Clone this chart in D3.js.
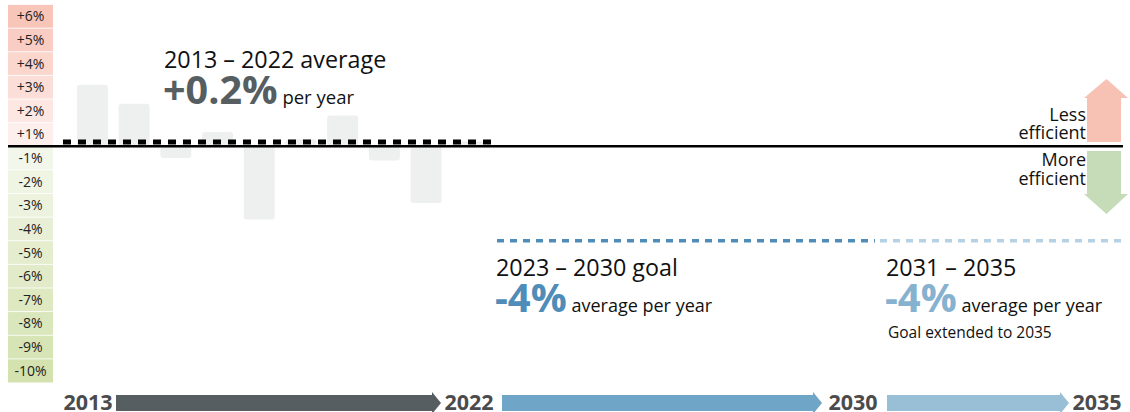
<!DOCTYPE html>
<html><head><meta charset="utf-8">
<script src="https://cdn.jsdelivr.net/npm/d3@7"></script>
<style>
html,body{margin:0;padding:0;background:#fff;}
svg{display:block;font-family:"Open Sans","Noto Sans",sans-serif;}
</style></head>
<body><svg id="c" width="1130" height="412"></svg>
<script>
// ---- data ----
const years = [2013,2014,2015,2016,2017,2018,2019,2020,2021,2022];
const changes = [2.6, 1.8, -0.5, 0.6, -3.1, 0.3, 1.3, -0.6, -2.4, 0.2];
const tickValues = [6,5,4,3,2,1,-1,-2,-3,-4,-5,-6,-7,-8,-9,-10];
const tickLabels = ["+6%","+5%","+4%","+3%","+2%","+1%","-1%","-2%","-3%","-4%","-5%","-6%","-7%","-8%","-9%","-10%"];
const avgPast = 0.2;
const goal2030 = -4;
const goal2035 = -4;
const timelineYears = ["2013","2022","2030","2035"];

const svg = d3.select("#c");
const y = d3.scaleLinear().domain([-10, 6]).range([382.5, 4.5]);
const x = d3.scaleBand().domain(years).range([71.6, 488.6]).paddingInner(0.257).paddingOuter(0.128);

// axis color bands
const posCol = d3.interpolateRgb("#fdefec", "#f8c5b9");
const negCol = d3.interpolateRgb("#f3f6ea", "#d3e2ae");
const band = svg.append("g");
tickValues.forEach((v, i) => {
  const top = v > 0 ? y(v) : y(v + 1);
  const bot = v > 0 ? y(v - 1) : y(v);
  const c = v > 0 ? posCol((v - 1) / 5) : negCol((-v - 1) / 9);
  band.append("rect").attr("x", 8).attr("width", 45).attr("y", top).attr("height", bot - top).attr("fill", c);
  band.append("line").attr("x1", 8).attr("x2", 53).attr("y1", top).attr("y2", top).attr("stroke", "#fff").attr("stroke-width", 0.8);
  band.append("text").attr("x", 30.5).attr("y", (top + bot) / 2 + 5).attr("text-anchor", "middle")
    .attr("font-size", 14).attr("fill", "#222").text(tickLabels[i]);
});

// bars
svg.append("g").selectAll("rect").data(years).join("rect")
  .attr("x", d => x(d)).attr("width", x.bandwidth())
  .attr("y", (d, i) => Math.min(y(changes[i]), y(0)))
  .attr("height", (d, i) => Math.abs(y(changes[i]) - y(0)))
  .attr("rx", 3).attr("fill", "#eeefef");

// zero line
svg.append("line").attr("x1", 8).attr("x2", 1123).attr("y1", y(0)).attr("y2", y(0))
  .attr("stroke", "#000").attr("stroke-width", 2.5);

// average dashed line
svg.append("line").attr("x1", 63).attr("x2", 492).attr("y1", y(avgPast) + 0.5).attr("y2", y(avgPast) + 0.5)
  .attr("stroke", "#000").attr("stroke-width", 5).attr("stroke-dasharray", "8,7");

// goal dashed lines
svg.append("line").attr("x1", 497).attr("x2", 875).attr("y1", y(goal2030)).attr("y2", y(goal2030))
  .attr("stroke", "#4f8db8").attr("stroke-width", 3.5).attr("stroke-dasharray", "7,6");
svg.append("line").attr("x1", 880).attr("x2", 1124).attr("y1", y(goal2035)).attr("y2", y(goal2035))
  .attr("stroke", "#b6d1e3").attr("stroke-width", 3.5).attr("stroke-dasharray", "7,6");

// texts
function label(xp, yp, parts) {
  const t = svg.append("text").attr("x", xp).attr("y", yp);
  parts.forEach(p => t.append("tspan").attr("font-size", p[0]).attr("font-weight", p[1]).attr("fill", p[2]).text(p[3]));
  return t;
}
label(164, 68, [[23.3, 400, "#111", "2013 – 2022 average"]]);
label(163, 104, [[39.5, 700, "#575e62", "+0.2%"], [18.5, 400, "#111", " per year"]]);
label(496, 276, [[23.3, 400, "#111", "2023 – 2030 goal"]]);
label(495, 312, [[40, 700, "#4f8db8", "-4%"], [18, 400, "#111", " average per year"]]);
label(886, 276, [[23.3, 400, "#111", "2031 – 2035"]]);
label(885, 312, [[40, 700, "#86b2d0", "-4%"], [18, 400, "#111", " average per year"]]);
label(888, 338, [[15.5, 400, "#111", "Goal extended to 2035"]]);

// efficiency arrows
svg.append("path").attr("fill", "#f7c2b3")
  .attr("d", "M1087,142 L1087,98 L1084,98 L1106.5,79 L1128,98 L1121,98 L1121,142 Z");
svg.append("path").attr("fill", "#c6dcb8")
  .attr("d", "M1087,151 L1087,194 L1084,194 L1106.5,214 L1128,194 L1121,194 L1121,151 Z");
[["Less",121],["efficient",139],["More",166],["efficient",185]].forEach(d => {
  svg.append("text").attr("x", 1086).attr("y", d[1]).attr("text-anchor", "end")
    .attr("font-size", 18).attr("fill", "#111").text(d[0]);
});

// timeline
const tl = svg.append("g");
const yrPos = [88, 469, 853, 1097];
tl.selectAll("text").data(timelineYears).join("text")
  .attr("x", (d, i) => yrPos[i]).attr("y", 409.5).attr("text-anchor", "middle")
  .attr("font-size", 21.5).attr("font-weight", 700).attr("fill", "#4b4b4d").text(d => d);
const segs = [[116, 441, "#575e62"], [502, 822, "#6fa5c6"], [887, 1069, "#98bfd6"]];
segs.forEach(s => {
  const [a, b, c] = s;
  tl.append("path").attr("fill", c)
    .attr("d", `M${a},395 L${b - 9},395 L${b - 9},392 L${b},403 L${b - 9},414 L${b - 9},411 L${a},411 Z`);
});
</script></body></html>
